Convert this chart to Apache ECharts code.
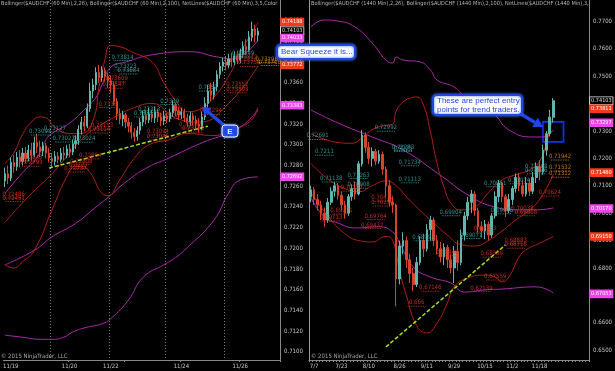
<!DOCTYPE html>
<html><head><meta charset="utf-8">
<script src="https://cdn.jsdelivr.net/npm/echarts@6/dist/echarts.min.js"></script>
<style>html,body{margin:0;padding:0;background:#000}#c{width:615px;height:371px}</style>
</head><body><div id="c"></div>
<script>
// ---------- DATA ----------
// 60-min panel (left): [open, close, low, high]
const leftCandles = [
[0.7265,0.7272,0.7259,0.7278],[0.7272,0.7268,0.7262,0.7280],[0.7268,0.7283,0.7265,0.7288],[0.7283,0.7279,0.7273,0.7290],
[0.7279,0.7288,0.7275,0.7293],[0.7288,0.7284,0.7278,0.7295],[0.7284,0.7292,0.7280,0.7297],[0.7292,0.7287,0.7282,0.7298],
[0.7287,0.7295,0.7284,0.7300],[0.7295,0.7290,0.7285,0.7302],[0.7290,0.7302,0.7288,0.7308],[0.7302,0.7298,0.7292,0.7311],
[0.7298,0.7294,0.7288,0.7304],[0.7294,0.7299,0.7289,0.7303],[0.7299,0.7292,0.7287,0.7302],[0.7292,0.7287,0.7283,0.7297],
[0.7287,0.7284,0.7279,0.7292],[0.7284,0.7289,0.7280,0.7294],[0.7289,0.7286,0.7282,0.7293],[0.7286,0.7292,0.7283,0.7297],
[0.7292,0.7290,0.7285,0.7298],[0.7290,0.7296,0.7287,0.7300],[0.7296,0.7293,0.7288,0.7301],[0.7293,0.7301,0.7290,0.7305],
[0.7301,0.7304,0.7296,0.7309],[0.7304,0.7315,0.7300,0.7319],[0.7315,0.7322,0.7310,0.7327],[0.7322,0.7318,0.7313,0.7328],
[0.7318,0.7335,0.7316,0.7340],[0.7335,0.7352,0.7332,0.7360],[0.7352,0.7358,0.7345,0.7364],[0.7358,0.7370,0.7353,0.7375],
[0.7370,0.7365,0.7360,0.7377],[0.7365,0.7372,0.7361,0.7376],[0.7372,0.7366,0.7361,0.7375],[0.7366,0.7362,0.7355,0.7370],
[0.7362,0.7358,0.7350,0.7367],[0.7358,0.7342,0.7338,0.7360],[0.7342,0.7330,0.7324,0.7345],[0.7330,0.7325,0.7320,0.7335],
[0.7325,0.7329,0.7318,0.7333],[0.7329,0.7322,0.7316,0.7331],[0.7322,0.7318,0.7312,0.7326],[0.7318,0.7312,0.7306,0.7322],
[0.7312,0.7308,0.7303,0.7316],[0.7308,0.7314,0.7304,0.7318],[0.7314,0.7322,0.7310,0.7326],[0.7322,0.7328,0.7318,0.7333],
[0.7328,0.7324,0.7320,0.7334],[0.7324,0.7330,0.7321,0.7336],[0.7330,0.7326,0.7322,0.7334],[0.7326,0.7332,0.7321,0.7337],
[0.7332,0.7327,0.7322,0.7335],[0.7327,0.7323,0.7318,0.7331],[0.7323,0.7328,0.7319,0.7333],[0.7328,0.7325,0.7321,0.7331],
[0.7325,0.7331,0.7322,0.7335],[0.7331,0.7338,0.7327,0.7343],[0.7338,0.7333,0.7328,0.7341],[0.7333,0.7329,0.7324,0.7337],
[0.7329,0.7332,0.7325,0.7336],[0.7332,0.7326,0.7322,0.7335],[0.7326,0.7322,0.7317,0.7330],[0.7322,0.7328,0.7318,0.7332],
[0.7328,0.7324,0.7319,0.7331],[0.7324,0.7320,0.7315,0.7328],[0.7320,0.7318,0.7312,0.7326],[0.7318,0.7327,0.7314,0.7332],
[0.7327,0.7340,0.7324,0.7346],[0.7340,0.7352,0.7336,0.7358],[0.7352,0.7348,0.7342,0.7360],[0.7348,0.7356,0.7344,0.7361],
[0.7356,0.7368,0.7352,0.7372],[0.7368,0.7376,0.7364,0.7380],[0.7376,0.7380,0.7371,0.7384],[0.7380,0.7377,0.7372,0.7386],
[0.7377,0.7383,0.7374,0.7388],[0.7383,0.7380,0.7375,0.7389],[0.7380,0.7386,0.7377,0.7390],[0.7386,0.7382,0.7378,0.7391],
[0.7382,0.7388,0.7379,0.7393],[0.7388,0.7395,0.7384,0.7400],[0.7395,0.7392,0.7387,0.7402],[0.7392,0.7404,0.7390,0.7410],
[0.7404,0.7412,0.7400,0.7419],[0.7412,0.7406,0.7399,0.7416],[0.7406,0.7410,0.7400,0.7413]
];
const leftCategoryCount = 94;
const leftDateLabels = [['11/19',2],['11/20',22],['11/22',36],['11/24',60],['11/26',80]];
const leftTickIdx = [22,41,60,80];
const leftSessionIdx = [16,36,55,75];
const leftYTicks = [0.7100,0.7120,0.7140,0.7160,0.7180,0.7200,0.7220,0.7240,0.7260,0.7280,0.7300,0.7320,0.7340,0.7360,0.7380,0.7400,0.7420];
const leftRedUpper = [[0,0.7282],[3,0.7292],[6,0.7310],[9,0.7322],[12,0.7327],[14,0.7326],[17,0.7317],[22,0.7311],[26,0.7311],[30,0.7324],[32,0.7356],[34,0.7382],[36,0.7396],[40,0.7394],[43,0.7390],[50,0.7380],[54,0.7360],[58,0.7343],[62,0.7332],[66,0.7334],[71,0.7346],[76,0.7366],[80,0.7389],[86,0.7418]];
const leftRedMid = [[0,0.7225],[8,0.7250],[16,0.7272],[22,0.7292],[27,0.7308],[32,0.7318],[38,0.7328],[44,0.7336],[50,0.7340],[58,0.7326],[66,0.7322],[76,0.7340],[86,0.7376]];
const leftRedLower = [[0,0.7184],[3,0.7181],[6,0.7187],[10,0.7198],[16,0.7237],[21,0.7269],[24,0.7279],[26,0.7279],[29,0.7273],[33,0.7253],[35,0.7251],[39,0.7266],[44,0.7287],[49,0.7300],[56,0.7305],[62,0.7311],[71,0.7309],[77,0.7314],[83,0.7322],[86,0.7334]];
const leftPurpleUpper = [[0,0.7253],[6,0.7273],[11,0.7288],[14,0.7305],[16,0.7311],[22,0.7321],[27,0.7334],[31,0.7346],[33,0.7358],[36,0.7375],[41,0.7380],[50,0.7387],[63,0.7390],[72,0.7385],[78,0.7383],[82,0.7389],[86,0.7401]];
const leftPurpleMid = [[0,0.7184],[10,0.7198],[16,0.7211],[24,0.7224],[31,0.7240],[35,0.7249],[42,0.7266],[49,0.7279],[54,0.7285],[67,0.7302],[78,0.7314],[84,0.7327],[86,0.7336]];
const leftPurpleLower = [[0,0.7116],[6,0.7114],[12,0.7112],[16,0.7112],[20,0.7114],[23,0.7119],[27,0.7123],[33,0.7127],[36,0.7132],[42,0.7150],[47,0.7172],[54,0.7184],[58,0.7191],[61,0.7198],[71,0.7227],[76,0.7253],[80,0.7266],[86,0.7269]];
const leftTrend = [[15,0.72775],[69,0.73181]];
const leftTealLevels = [[40,0.73814],[41,0.73723],[42,0.73684],[12,0.73095],[17,0.73127],[20,0.73027],[27,0.73024],[47,0.7327],[49,0.73313],[56,0.7339],[69,0.7352],[81,0.73849]];
const leftRedLevels = [[38,0.73609],[37,0.73547],[35,0.7336],[33,0.73153],[32,0.73114],[9,0.72843],[9,0.72793],[3,0.72486],[3,0.72451],[29,0.72864],[26,0.72808],[25,0.7277],[24,0.72737],[52,0.73094],[52,0.73046],[56,0.73252],[63,0.73162],[64,0.73121],[70,0.73294],[79,0.73552],[79,0.73503],[82,0.73812],[83,0.73758]];
const leftOrangeLevels = [[89,0.73796],[90,0.73766]];
const leftTags = [[0.74188,'band'],[0.74103,'last'],[0.74033,'slow'],[0.73772,'band'],[0.73383,'slow'],[0.72692,'slow']];

// Daily panel (right): [open, close, low, high]
const rightCandles = [
[0.7060,0.7085,0.7040,0.7100],[0.7085,0.7050,0.7030,0.7095],[0.7050,0.7030,0.7010,0.7070],[0.7030,0.7000,0.6975,0.7045],
[0.7000,0.6975,0.6950,0.7020],[0.6975,0.7040,0.6965,0.7055],[0.7040,0.7080,0.7030,0.7095],[0.7080,0.7100,0.7060,0.7114],
[0.7100,0.7065,0.7050,0.7110],[0.7065,0.7030,0.7010,0.7080],[0.7030,0.7000,0.6980,0.7045],[0.7000,0.7060,0.6990,0.7070],
[0.7060,0.7090,0.7045,0.7105],[0.7090,0.7070,0.7050,0.7115],[0.7070,0.7180,0.7065,0.7190],[0.7180,0.7285,0.7170,0.7303],
[0.7285,0.7240,0.7220,0.7295],[0.7240,0.7200,0.7180,0.7260],[0.7200,0.7225,0.7170,0.7240],[0.7225,0.7190,0.7175,0.7235],
[0.7190,0.7215,0.7180,0.7230],[0.7215,0.7160,0.7140,0.7225],[0.7160,0.7100,0.7060,0.7170],[0.7100,0.7040,0.7025,0.7120],
[0.7040,0.7030,0.7000,0.7060],[0.7030,0.6760,0.6660,0.7035],[0.6760,0.6880,0.6740,0.6900],[0.6880,0.6900,0.6850,0.6930],
[0.6900,0.6830,0.6800,0.6915],[0.6830,0.6780,0.6745,0.6850],[0.6780,0.6740,0.6715,0.6800],[0.6740,0.6820,0.6730,0.6840],
[0.6820,0.6900,0.6810,0.6915],[0.6900,0.6870,0.6840,0.6925],[0.6870,0.6940,0.6860,0.6960],[0.6940,0.6975,0.6900,0.6990],
[0.6975,0.6900,0.6880,0.6985],[0.6900,0.6870,0.6850,0.6920],[0.6870,0.6840,0.6820,0.6895],[0.6840,0.6875,0.6810,0.6890],
[0.6875,0.6830,0.6800,0.6885],[0.6830,0.6800,0.6780,0.6850],[0.6800,0.6860,0.6745,0.6880],[0.6860,0.6820,0.6790,0.6900],
[0.6820,0.6920,0.6810,0.6940],[0.6920,0.6990,0.6900,0.7005],[0.6990,0.7040,0.6975,0.7060],[0.7040,0.7070,0.7000,0.7085],
[0.7070,0.7010,0.6990,0.7080],[0.7010,0.6950,0.6930,0.7020],[0.6950,0.6935,0.6910,0.6970],[0.6935,0.6960,0.6905,0.6975],
[0.6960,0.6920,0.6900,0.6970],[0.6920,0.6990,0.6910,0.7000],[0.6990,0.7060,0.6980,0.7080],[0.7060,0.7110,0.7040,0.7121],
[0.7110,0.7060,0.7040,0.7115],[0.7060,0.7010,0.6986,0.7070],[0.7010,0.7050,0.7000,0.7070],[0.7050,0.7090,0.7030,0.7100],
[0.7090,0.7130,0.7075,0.7145],[0.7130,0.7100,0.7080,0.7147],[0.7100,0.7070,0.7060,0.7120],[0.7070,0.7110,0.7060,0.7132],
[0.7110,0.7080,0.7062,0.7125],[0.7080,0.7130,0.7070,0.7150],[0.7130,0.7170,0.7110,0.7185],[0.7170,0.7150,0.7120,0.7194],
[0.7150,0.7230,0.7140,0.7250],[0.7230,0.7290,0.7210,0.7300],[0.7290,0.7350,0.7280,0.7377],[0.7350,0.7410,0.7330,0.7420]
];
const rightCategoryCount = 82;
const rightDateLabels = [['7/7',1],['7/23',9],['8/10',17],['8/26',26],['9/11',34],['9/29',42],['10/15',51],['11/2',59],['11/18',67]];
const rightYTicks = [0.6500,0.6600,0.6700,0.6800,0.6900,0.7000,0.7100,0.7200,0.7300,0.7400,0.7500,0.7600,0.7700];
const rightRedUpper = [[0,0.7290],[4,0.7270],[8,0.7258],[12,0.7255],[15,0.7275],[18,0.7305],[21,0.7318],[24,0.7325],[25,0.7372],[27,0.7405],[29,0.7420],[31,0.7424],[33,0.7395],[35,0.7300],[37,0.7180],[39,0.7096],[41,0.7037],[44,0.7012],[48,0.7022],[52,0.7074],[56,0.7121],[60,0.7140],[64,0.7158],[67,0.7190],[69,0.7255],[71,0.7365]];
const rightRedMid = [[0,0.7183],[5,0.7125],[10,0.7090],[14,0.7078],[18,0.7100],[22,0.7118],[25,0.7100],[28,0.7060],[32,0.7010],[36,0.6965],[40,0.6920],[44,0.6885],[48,0.6880],[52,0.6900],[56,0.6935],[60,0.6975],[64,0.7010],[67,0.7050],[69,0.7090],[71,0.7140]];
const rightRedLower = [[0,0.7076],[5,0.6990],[10,0.6925],[14,0.6900],[18,0.6895],[22,0.6915],[24,0.6900],[26,0.6790],[28,0.6700],[31,0.6590],[34,0.6563],[37,0.6599],[40,0.6672],[42,0.6731],[46,0.6763],[51,0.6774],[54,0.6767],[56,0.6749],[58,0.6767],[61,0.6840],[63,0.6866],[67,0.6890],[71,0.6915]];
const rightPurpleUpper = [[0,0.7679],[4,0.7705],[8,0.7701],[13,0.7679],[18,0.7621],[22,0.7559],[24,0.7548],[25,0.7570],[27,0.7559],[32,0.7552],[35,0.7523],[37,0.7486],[42,0.7460],[45,0.7424],[49,0.7377],[53,0.7366],[58,0.7304],[65,0.7278],[68,0.7278],[71,0.7304]];
const rightPurpleMid = [[0,0.7377],[8,0.7329],[18,0.7278],[27,0.7231],[37,0.7147],[47,0.7059],[54,0.7022],[60,0.7012],[66,0.7012],[71,0.7019]];
const rightPurpleLower = [[0,0.7059],[4,0.6986],[8,0.6964],[13,0.6946],[20,0.6950],[24,0.6931],[26,0.6891],[30,0.6804],[35,0.6767],[41,0.6745],[45,0.6712],[51,0.6720],[56,0.6723],[66,0.6731],[71,0.6709]];
const rightTrend = [[22,0.65116],[57,0.6884]];
const rightEntryBox = [[68,0.7333],[74,0.7260]];
const rightTealLevels = [[22,0.72992],[2,0.72691],[4,0.7211],[27,0.72283],[27,0.7225],[29,0.71734],[6,0.71138],[14,0.71263],[14,0.70908],[29,0.71113],[33,0.68991],[41,0.69904],[47,0.69071],[54,0.70961],[61,0.71074],[66,0.71568],[66,0.71436],[56,0.69976]];
const rightRedLevels = [[12,0.70797],[21,0.70432],[21,0.70259],[9,0.69971],[6,0.69713],[19,0.69764],[18,0.69437],[62,0.70038],[63,0.69908],[70,0.70624],[60,0.68883],[60,0.68718],[53,0.68389],[54,0.67559],[50,0.67139],[35,0.67146],[31,0.666],[51,0.69313],[40,0.68448]];
const rightOrangeLevels = [[73,0.71942],[73,0.71532],[73,0.71312]];
const rightTags = [[0.74103,'last'],[0.73811,'band'],[0.73297,'slow'],[0.71480,'band'],[0.70170,'slow'],[0.69150,'band'],[0.67053,'slow']];

const leftTitle = 'Bollinger($AUDCHF (60 Min),2,26), Bollinger($AUDCHF (60 Min),2,100), NetLines($AUDCHF (60 Min),3,5,Color [Lime';
const rightTitle = 'Bollinger($AUDCHF (1440 Min),2,26), Bollinger($AUDCHF (1440 Min),2,100), NetLines($AUDCHF (1440 Min),3,5,Color [Lime';
const copyright = '\u00a9 2015 NinjaTrader, LLC';

// ---------- STYLE ----------
const FONT = '"Liberation Sans Narrow","Arial Narrow","DejaVu Sans Condensed","Liberation Sans",sans-serif';
const AX = '#c8c8c8';
const UP = '#62b6ae', DOWN = '#d8432b';
const RED = '#b31e16', PURPLE = '#a92aa9';
const TEAL = '#3fb0b0', LRED = '#ee3b22', ORANGE = '#eb9418';
const BLUE = '#1f47e6';
const TAGSTYLE = {
  band: {backgroundColor:'#f03a1c', color:'#fff', borderColor:'#f03a1c'},
  slow: {backgroundColor:'#ee44ee', color:'#fff', borderColor:'#ee44ee'},
  last: {backgroundColor:'#000', color:'#ddd', borderColor:'#eee'}
};
const DOTS = 'path://M0 0h1v1H0zM2 0h1v1H2zM4 0h1v1H4zM6 0h1v1H6zM8 0h1v1H8zM10 0h1v1h-1zM12 0h1v1h-1zM14 0h1v1h-1zM16 0h1v1h-1zM18 0h1v1h-1zM20 0h1v1h-1z';

const fmtLevel = v => v.toFixed(5).replace(/0+$/,'');
function cats(n){ return Array.from({length:n}, (_, i) => 'c' + i); }
function labelMap(marks){ const m = {}; marks.forEach(([t,i]) => m[i] = t); return m; }
const leftLblMap = labelMap(leftDateLabels), rightLblMap = labelMap(rightDateLabels);

function band(xi, data, color){
  return {type:'line', xAxisIndex:xi, yAxisIndex:xi, data, smooth:0.5, showSymbol:false, silent:true,
    lineStyle:{color, width:1}, z:2};
}
function levels(xi, data, color){
  return {type:'scatter', xAxisIndex:xi, yAxisIndex:xi, data, symbol:DOTS, symbolSize:[18,1], silent:true,
    itemStyle:{color}, z:6,
    label:{show:true, position:'top', distance:0, color, fontSize:6, fontFamily:FONT,
      formatter:p => fmtLevel(p.value[1])}};
}
function tagSeries(xi, tags){
  return {type:'line', xAxisIndex:xi, yAxisIndex:xi, data:[], silent:true, clip:false, z:8,
    markLine:{silent:true, symbol:['none','none'], animation:false, precision:5,
      lineStyle:{color:'rgba(0,0,0,0)', width:0, opacity:1},
      label:{show:true, position:'end', distance:1, fontSize:5.5, fontFamily:FONT, padding:[1,1,0,1], borderWidth:0.8,
        opacity:1, formatter:p => Number(p.value).toFixed(5)},
      data: tags.map(([v,k]) => ({yAxis:v, label:Object.assign({}, TAGSTYLE[k])}))}};
}
function trend(xi, pts){
  return {type:'line', xAxisIndex:xi, yAxisIndex:xi, data:[], silent:true, z:4,
    markLine:{silent:true, symbol:['none','none'], precision:5, lineStyle:{color:'#a6e21c', type:[4,2], width:1.5}, label:{show:false},
      data:[[{coord:pts[0]},{coord:pts[1]}]]}};
}

const chart = echarts.init(document.getElementById('c'), null, {renderer:'canvas'});
const axisLabelBase = {color:AX, fontSize:6, fontFamily:FONT};

const option = {
  backgroundColor:'#000',
  animation:false,
  grid:[
    {left:0, right:335, top:0, bottom:11},
    {left:309, right:24, top:0, bottom:11}
  ],
  xAxis:[
    {type:'category', gridIndex:0, data:cats(leftCategoryCount), boundaryGap:true,
      axisLine:{lineStyle:{color:'#8a8a8a'}},
      axisTick:{show:true, interval:(i) => leftTickIdx.includes(i), length:2, lineStyle:{color:'#8a8a8a'}},
      axisLabel:Object.assign({interval:(i) => leftLblMap[i] !== undefined, margin:3,
        formatter:(v, i) => leftLblMap[i] || ''}, axisLabelBase),
      splitLine:{show:true, interval:(i) => leftSessionIdx.includes(i), lineStyle:{color:'#7a7a7a', type:[1,2], width:1}}},
    {type:'category', gridIndex:1, data:cats(rightCategoryCount), boundaryGap:true,
      axisLine:{lineStyle:{color:'#8a8a8a'}},
      axisTick:{show:true, interval:0, length:2, lineStyle:{color:'#8a8a8a'}},
      axisLabel:Object.assign({interval:(i) => rightLblMap[i] !== undefined, margin:3,
        formatter:(v, i) => rightLblMap[i] || ''}, axisLabelBase),
      splitLine:{show:false}}
  ],
  yAxis:[
    {type:'value', gridIndex:0, position:'right', min:0.7092, max:0.7440, scale:true,
      axisLine:{show:true, lineStyle:{color:'#8a8a8a'}}, axisTick:{show:false}, splitLine:{show:false},
      axisLabel:Object.assign({customValues:leftYTicks, margin:4, formatter:v => v.toFixed(4)}, axisLabelBase)},
    {type:'value', gridIndex:1, position:'right', min:0.6464, max:0.7778, scale:true,
      axisLine:{show:true, lineStyle:{color:'#8a8a8a'}}, axisTick:{show:false}, splitLine:{show:false},
      axisLabel:Object.assign({customValues:rightYTicks, margin:4, formatter:v => v.toFixed(4)}, axisLabelBase)}
  ],
  series:[
    band(0, leftPurpleUpper, PURPLE), band(0, leftPurpleMid, PURPLE), band(0, leftPurpleLower, PURPLE),
    band(0, leftRedUpper, RED), band(0, leftRedMid, RED), band(0, leftRedLower, RED),
    {type:'candlestick', xAxisIndex:0, yAxisIndex:0, data:leftCandles, barWidth:1.6, silent:true, z:3,
      itemStyle:{color:UP, color0:DOWN, borderColor:UP, borderColor0:DOWN, borderWidth:1}},
    trend(0, leftTrend),
    levels(0, leftTealLevels, TEAL), levels(0, leftRedLevels, LRED), levels(0, leftOrangeLevels, ORANGE),
    tagSeries(0, leftTags),

    band(1, rightPurpleUpper, PURPLE), band(1, rightPurpleMid, PURPLE), band(1, rightPurpleLower, PURPLE),
    band(1, rightRedUpper, RED), band(1, rightRedMid, RED), band(1, rightRedLower, RED),
    {type:'candlestick', xAxisIndex:1, yAxisIndex:1, data:rightCandles, barWidth:2.2, silent:true, z:3,
      itemStyle:{color:UP, color0:DOWN, borderColor:UP, borderColor0:DOWN, borderWidth:1},
      markArea:{silent:true, precision:5, itemStyle:{color:'rgba(0,0,0,0)', borderColor:'#1030ff', borderWidth:1.6},
        data:[[{coord:rightEntryBox[0]},{coord:rightEntryBox[1]}]]}},
    trend(1, rightTrend),
    levels(1, rightTealLevels, TEAL), levels(1, rightRedLevels, LRED), levels(1, rightOrangeLevels, ORANGE),
    tagSeries(1, rightTags)
  ],
  graphic:[
    {type:'line', shape:{x1:309.5,y1:0,x2:309.5,y2:360}, style:{stroke:'#9a9a9a', lineWidth:1}, silent:true, z:10},
    {type:'text', left:1, top:1, silent:true, z:10,
      style:{text:leftTitle, fill:'#b5b5b5', font:'5.6px ' + FONT, width:279, overflow:'truncate', ellipsis:''}},
    {type:'text', left:311, top:1, silent:true, z:10,
      style:{text:rightTitle, fill:'#b5b5b5', font:'5.6px ' + FONT, width:280, overflow:'truncate', ellipsis:''}},
    {type:'text', left:1, top:353, silent:true, z:10, style:{text:copyright, fill:'#a8a8a8', font:'6px ' + FONT}},
    {type:'text', left:311, top:353, silent:true, z:10, style:{text:copyright, fill:'#a8a8a8', font:'6px ' + FONT}},
    // Bear squeeze callout
    {type:'rect', shape:{x:277,y:45,width:78,height:14,r:4}, silent:true, z:20,
      style:{fill:'#fff', stroke:BLUE, lineWidth:2, shadowBlur:3, shadowColor:'#4a78ff'}},
    {type:'text', x:281, y:52, silent:true, z:21,
      style:{text:'Bear Squeeze it is...', fill:BLUE, font:'8px "Liberation Sans",Arial,sans-serif', verticalAlign:'middle'}},
    // E callout + arrow
    {type:'line', shape:{x1:226,y1:127,x2:207,y2:111}, silent:true, z:20, style:{stroke:BLUE, lineWidth:3.5}},
    {type:'polygon', shape:{points:[[202,107],[211.5,108.3],[204.8,116.2]]}, silent:true, z:20, style:{fill:BLUE}},
    {type:'rect', shape:{x:222,y:125,width:16,height:12,r:3}, silent:true, z:21,
      style:{fill:BLUE, stroke:'#fff', lineWidth:1, shadowBlur:3, shadowColor:'#4a78ff'}},
    {type:'text', x:230, y:131.5, silent:true, z:22,
      style:{text:'E', fill:'#dfe8ff', font:'bold 8px "Liberation Sans",Arial,sans-serif', align:'center', verticalAlign:'middle'}},
    // entry callout + arrow
    {type:'line', shape:{x1:516,y1:111,x2:535,y2:122.5}, silent:true, z:20, style:{stroke:BLUE, lineWidth:3.5}},
    {type:'polygon', shape:{points:[[543,127],[532.2,127],[537.8,117.8]]}, silent:true, z:20, style:{fill:BLUE}},
    {type:'rect', shape:{x:433,y:95,width:89,height:20,r:4}, silent:true, z:21,
      style:{fill:'#fff', stroke:BLUE, lineWidth:2, shadowBlur:3, shadowColor:'#4a78ff'}},
    {type:'text', x:437, y:97, silent:true, z:22,
      style:{text:'These are perfect entry\npoints for trend traders.', fill:BLUE, font:'8px "Liberation Sans",Arial,sans-serif', lineHeight:8.5}}
  ]
};
chart.setOption(option);
</script></body></html>
